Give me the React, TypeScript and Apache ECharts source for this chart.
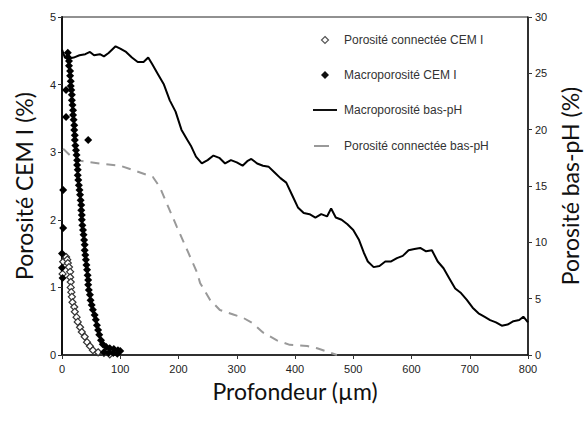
import React, { useEffect, useRef } from "react";
import * as echarts from "echarts";

// Depth ticks (µm)
const xTicks = [0, 100, 200, 300, 400, 500, 600, 700, 800];

// Macroporosité bas-pH (%), right axis: [depth, value]
const macroBasPh: [number, number][] = [
  [0, 27.1], [5, 26.4], [10, 26.3], [20, 26.4], [30, 26.6], [40, 26.7], [48, 26.9], [55, 26.6],
  [65, 26.7], [72, 26.5], [80, 26.8], [88, 27.2], [92, 27.4], [100, 27.2], [110, 26.9], [120, 26.4],
  [130, 26.0], [140, 26.0], [148, 26.4], [155, 25.8], [165, 24.9], [175, 24.0], [185, 22.6], [195, 21.6],
  [205, 20.0], [215, 19.1], [222, 18.5], [230, 17.6], [240, 17.0], [250, 17.3], [260, 17.7], [270, 17.5],
  [280, 17.0], [290, 17.3], [300, 17.1], [310, 16.8], [318, 17.2], [325, 17.4], [335, 17.0], [345, 16.8],
  [355, 16.7], [365, 16.2], [375, 15.7], [385, 15.3], [395, 14.2], [405, 13.1], [415, 12.6], [425, 12.5],
  [435, 12.2], [445, 12.5], [455, 12.3], [462, 13.0], [470, 12.2], [480, 12.0], [490, 11.6], [500, 11.1],
  [510, 10.2], [518, 9.1], [525, 8.3], [535, 7.8], [545, 7.9], [555, 8.3], [565, 8.3], [575, 8.6],
  [585, 8.8], [595, 9.3], [605, 9.4], [615, 9.5], [625, 9.2], [635, 9.3], [645, 8.3], [655, 7.7],
  [665, 6.8], [675, 5.9], [685, 5.5], [695, 4.9], [705, 4.2], [715, 3.7], [725, 3.4], [735, 3.1],
  [745, 2.9], [755, 2.6], [765, 2.7], [775, 3.0], [785, 3.1], [792, 3.4], [800, 2.9],
];

// Porosité connectée bas-pH (%), right axis
const connBasPh: [number, number][] = [
  [2, 18.3], [22, 17.3], [65, 17.0], [100, 16.8], [134, 16.2], [156, 15.8], [168, 14.9], [177, 13.8],
  [197, 11.4], [215, 9.3], [232, 7.3], [237, 6.4], [254, 4.9], [271, 4.0], [294, 3.6], [311, 3.3],
  [328, 2.8], [345, 2.0], [369, 1.3], [391, 0.9], [421, 0.8], [438, 0.6], [455, 0.3], [472, 0],
];

// Macroporosité CEM I (%), left axis
const macroCem: [number, number][] = [
  [10, 4.47], [10, 4.41], [12, 4.35], [12, 4.28], [14, 4.2], [14, 4.13], [15, 4.05], [15, 3.98],
  [16, 3.92], [7, 3.92], [17, 3.85], [17, 3.77], [18, 3.7], [19, 3.62], [19, 3.55], [7, 3.52],
  [20, 3.48], [21, 3.4], [21, 3.33], [22, 3.25], [22, 3.18], [45, 3.18], [23, 3.1], [24, 3.03],
  [25, 2.96], [26, 2.88], [26, 2.81], [27, 2.74], [27, 2.66], [28, 2.59], [29, 2.51], [30, 2.44],
  [2, 2.44], [31, 2.37], [32, 2.29], [33, 2.22], [33, 2.14], [34, 2.07], [34, 2.0], [35, 1.92],
  [2, 1.88], [36, 1.85], [37, 1.78], [38, 1.7], [39, 1.63], [39, 1.55], [0, 1.5], [40, 1.48],
  [41, 1.41], [42, 1.33], [0, 1.29], [43, 1.26], [44, 1.18], [1, 1.14], [45, 1.11], [45, 1.04],
  [46, 0.96], [48, 0.89], [49, 0.81], [51, 0.74], [53, 0.67], [56, 0.59], [58, 0.52], [60, 0.44],
  [62, 0.37], [64, 0.3], [67, 0.22], [70, 0.16], [76, 0.12], [82, 0.1], [89, 0.09], [96, 0.07],
  [100, 0.06], [72, 0.04], [80, 0.03], [88, 0.03], [95, 0.02],
];

// Porosité connectée CEM I (%), left axis
const connCem: [number, number][] = [
  [2, 1.38], [1, 1.2], [7, 1.45], [9, 1.41], [10, 1.36], [12, 1.3], [14, 1.23], [14, 1.15],
  [15, 1.08], [15, 1.0], [16, 0.93], [17, 0.86], [18, 0.78], [21, 0.71], [22, 0.64], [25, 0.56],
  [27, 0.49], [31, 0.41], [34, 0.34], [39, 0.27], [43, 0.19], [48, 0.13], [53, 0.07], [62, 0.04],
  [72, 0.03], [82, 0.01],
];

const legendLabels = [
  "Porosité connectée CEM I",
  "Macroporosité CEM I",
  "Macroporosité bas-pH",
  "Porosité connectée bas-pH",
];

const tickFont = "'Liberation Sans Narrow', 'Liberation Sans', Arial, sans-serif";
const nameFont = "Lato, 'Open Sans', sans-serif";

export default function App() {
  const ref = useRef<HTMLDivElement>(null);
  useEffect(() => {
    document.body.style.margin = "0";
    const chart = echarts.init(ref.current!, undefined, { renderer: "svg" });
    const tickLabel = { color: "#222", fontSize: 11, fontFamily: tickFont };
    const legY = [40, 75, 110, 146];
    const graphic: any[] = [
      {
        type: "polygon",
        shape: { points: [[325, 36.5], [328.5, 40], [325, 43.5], [321.5, 40]] },
        style: { fill: "#fff", stroke: "#555", lineWidth: 1.2 },
      },
      {
        type: "polygon",
        shape: { points: [[325, 71], [329, 75], [325, 79], [321, 75]] },
        style: { fill: "#111" },
      },
      { type: "line", shape: { x1: 313, y1: 110, x2: 337, y2: 110 }, style: { stroke: "#111", lineWidth: 2 } },
      { type: "line", shape: { x1: 314, y1: 146, x2: 329, y2: 146 }, style: { stroke: "#999", lineWidth: 2 } },
      ...legendLabels.map((t, i) => ({
        type: "text",
        x: 344,
        y: legY[i],
        style: { text: t, fill: "#333", fontSize: 12, fontFamily: tickFont, textVerticalAlign: "middle" },
      })),
    ];
    const nameStyle = { fontSize: 23, color: "#111", fontFamily: nameFont };
    chart.setOption({
      animation: false,
      backgroundColor: "#fff",
      grid: {
        left: 62, right: 57, top: 17, bottom: 66,
        show: true, borderColor: "#222", borderWidth: 1,
        outerBoundsMode: "none",
        containLabel: false,
      },
      graphic,
      xAxis: {
        type: "value",
        min: 0,
        max: 800,
        interval: 100,
        name: "Profondeur (µm)",
        nameLocation: "middle",
        nameGap: 24,
        nameTextStyle: nameStyle,
        axisLine: { show: true, lineStyle: { color: "#111", width: 1.5 } },
        axisTick: { show: true, length: 4, lineStyle: { color: "#333" } },
        axisLabel: { ...tickLabel, margin: 8, formatter: (v: number) => (xTicks.includes(v) ? String(v) : "") },
        splitLine: { show: false },
      },
      yAxis: [
        {
          type: "value",
          min: 0,
          max: 5,
          interval: 1,
          position: "left",
          name: "Porosité CEM I (%)",
          nameLocation: "middle",
          nameGap: 27,
          nameTextStyle: nameStyle,
          axisLine: { show: true, lineStyle: { color: "#111", width: 2 } },
          axisTick: { show: true, length: 4, lineStyle: { color: "#333" } },
          axisLabel: { ...tickLabel, margin: 6 },
          splitLine: { show: false },
        },
        {
          type: "value",
          min: 0,
          max: 30,
          interval: 5,
          position: "right",
          name: "Porosité bas-pH (%)",
          nameLocation: "middle",
          nameGap: 26,
          nameTextStyle: nameStyle,
          axisLine: { show: true, lineStyle: { color: "#111", width: 1.5 } },
          axisTick: { show: true, length: 4, lineStyle: { color: "#333" } },
          axisLabel: { ...tickLabel, margin: 7 },
          splitLine: { show: false },
        },
      ],
      series: [
        {
          name: legendLabels[2],
          type: "line",
          yAxisIndex: 1,
          data: macroBasPh,
          showSymbol: false,
          lineStyle: { color: "#000", width: 2 },
          z: 2,
        },
        {
          name: legendLabels[3],
          type: "line",
          yAxisIndex: 1,
          data: connBasPh,
          showSymbol: false,
          lineStyle: { color: "#999", width: 2, type: [9, 7] },
          z: 2,
        },
        {
          name: legendLabels[0],
          type: "scatter",
          yAxisIndex: 0,
          data: connCem,
          symbol: "diamond",
          symbolSize: 7,
          itemStyle: { color: "#fff", borderColor: "#333", borderWidth: 1.2, opacity: 1 },
          z: 3,
        },
        {
          name: legendLabels[1],
          type: "scatter",
          yAxisIndex: 0,
          data: macroCem,
          symbol: "diamond",
          symbolSize: 8,
          itemStyle: { color: "#000", opacity: 1 },
          z: 4,
        },
      ],
    });
    return () => chart.dispose();
  }, []);
  return <div ref={ref} style={{ width: 585, height: 421 }} />;
}
